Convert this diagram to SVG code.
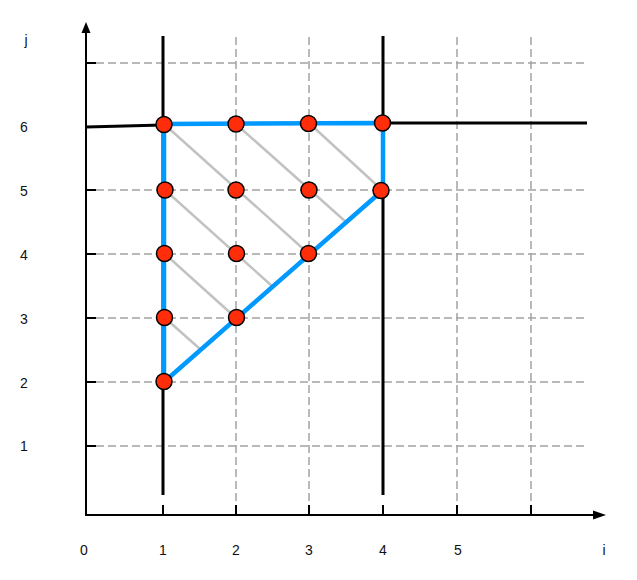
<svg xmlns="http://www.w3.org/2000/svg" width="637" height="580" viewBox="0 0 637 580">
<style>
.grid{stroke:#a3a3a3;stroke-width:1.5;stroke-dasharray:8 4;fill:none}
.axis{stroke:#000;stroke-width:2;fill:none}
.tick{stroke:#000;stroke-width:2}
.bound{stroke:#000;stroke-width:3;fill:none}
.hatch{stroke:#c2c2c2;stroke-width:2.5;fill:none}
.region{stroke:#0099ff;stroke-width:4.5;fill:none;stroke-linejoin:round}
.pt{fill:#ff2d0a;stroke:#000;stroke-width:1.5}
.lbl{font-family:"Liberation Sans",Arial,sans-serif;font-size:14px;fill:#111;text-anchor:middle}
</style>
<rect width="637" height="580" fill="#fff"/>
<g id="grid">
<line class="grid" x1="96" y1="63" x2="587" y2="63"/>
<line class="grid" x1="96" y1="190" x2="587" y2="190"/>
<line class="grid" x1="96" y1="254" x2="587" y2="254"/>
<line class="grid" x1="96" y1="318" x2="587" y2="318"/>
<line class="grid" x1="96" y1="382" x2="587" y2="382"/>
<line class="grid" x1="96" y1="446" x2="587" y2="446"/>
<line class="grid" x1="236" y1="37" x2="236" y2="505"/>
<line class="grid" x1="309" y1="37" x2="309" y2="505"/>
<line class="grid" x1="457" y1="37" x2="457" y2="505"/>
<line class="grid" x1="531" y1="37" x2="531" y2="505"/>
</g>
<g id="axes">
<line class="axis" x1="86" y1="516" x2="86" y2="32"/>
<polygon points="86,22 81.5,33 90.5,33" fill="#000"/>
<line class="axis" x1="85" y1="515" x2="595" y2="515"/>
<polygon points="606,515 593,510.5 593,519.5" fill="#000"/>
<line class="tick" x1="86" y1="63" x2="96" y2="63"/>
<line class="tick" x1="86" y1="190" x2="96" y2="190"/>
<line class="tick" x1="86" y1="254" x2="96" y2="254"/>
<line class="tick" x1="86" y1="318" x2="96" y2="318"/>
<line class="tick" x1="86" y1="382" x2="96" y2="382"/>
<line class="tick" x1="86" y1="446" x2="96" y2="446"/>
<line class="tick" x1="163" y1="505" x2="163" y2="515"/>
<line class="tick" x1="236" y1="505" x2="236" y2="515"/>
<line class="tick" x1="309" y1="505" x2="309" y2="515"/>
<line class="tick" x1="383" y1="505" x2="383" y2="515"/>
<line class="tick" x1="457" y1="505" x2="457" y2="515"/>
<line class="tick" x1="531" y1="505" x2="531" y2="515"/>
</g>
<g id="bounds">
<line class="bound" x1="163" y1="36" x2="163" y2="495"/>
<line class="bound" x1="383" y1="36" x2="383" y2="495"/>
<line class="bound" x1="86" y1="127" x2="163" y2="125"/>
<line class="bound" x1="383" y1="123" x2="587" y2="123"/>
</g>
<g id="connectors">
<line class="hatch" x1="164" y1="124" x2="309" y2="254"/>
<line class="hatch" x1="236" y1="124" x2="346" y2="222"/>
<line class="hatch" x1="309" y1="123" x2="382" y2="190"/>
<line class="hatch" x1="165" y1="190" x2="272" y2="286"/>
<line class="hatch" x1="165" y1="254" x2="236" y2="318"/>
<line class="hatch" x1="165" y1="318" x2="200" y2="349"/>
<polyline class="region" points="164,382 164,124 383,123 383,190 164,382"/>
</g>
<g id="points">
<circle id="p1-6" class="pt" cx="164" cy="124.5" r="8"/>
<circle id="p2-6" class="pt" cx="236" cy="124" r="8"/>
<circle id="p3-6" class="pt" cx="308.5" cy="123.5" r="8"/>
<circle id="p4-6" class="pt" cx="382.5" cy="123" r="8"/>
<circle id="p1-5" class="pt" cx="165" cy="190" r="8"/>
<circle id="p2-5" class="pt" cx="236" cy="190" r="8"/>
<circle id="p3-5" class="pt" cx="309" cy="190" r="8"/>
<circle id="p4-5" class="pt" cx="381" cy="190.5" r="8"/>
<circle id="p1-4" class="pt" cx="164.5" cy="253.5" r="8"/>
<circle id="p2-4" class="pt" cx="236.5" cy="253.5" r="8"/>
<circle id="p3-4" class="pt" cx="308.5" cy="253.5" r="8"/>
<circle id="p1-3" class="pt" cx="164.5" cy="317.5" r="8"/>
<circle id="p2-3" class="pt" cx="236.5" cy="317.5" r="8"/>
<circle id="p1-2" class="pt" cx="164" cy="381.5" r="8"/>
</g>
<g id="labels">
<text class="lbl" x="26" y="45">j</text>
<text class="lbl" x="24" y="132">6</text>
<text class="lbl" x="24" y="196">5</text>
<text class="lbl" x="24" y="260">4</text>
<text class="lbl" x="24" y="324">3</text>
<text class="lbl" x="24" y="388">2</text>
<text class="lbl" x="24" y="451">1</text>
<text class="lbl" x="84" y="555">0</text>
<text class="lbl" x="163" y="555">1</text>
<text class="lbl" x="236" y="555">2</text>
<text class="lbl" x="309" y="555">3</text>
<text class="lbl" x="383" y="555">4</text>
<text class="lbl" x="458" y="555">5</text>
<text class="lbl" x="604" y="555">i</text>
</g>
</svg>
